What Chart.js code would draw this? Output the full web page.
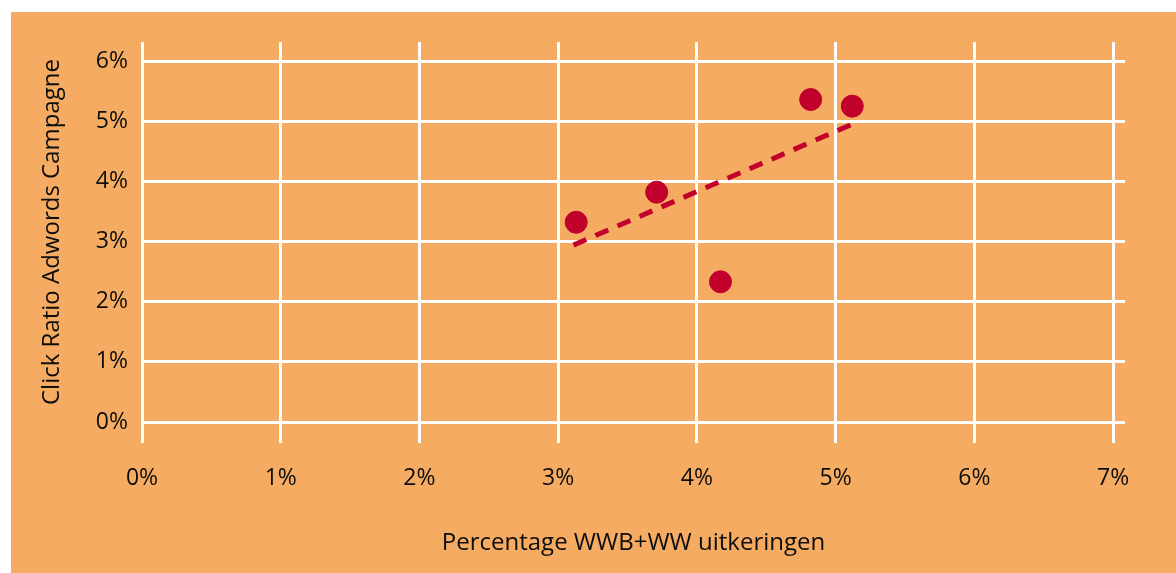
<!DOCTYPE html>
<html>
<head>
<meta charset="utf-8">
<script src="https://cdn.jsdelivr.net/npm/chart.js@4.4.1/dist/chart.umd.min.js"></script>
<style>
    html, body { margin: 0; padding: 0; background: #ffffff; }
    #wrap { width: 1176px; height: 573px; }
</style>
</head>
<body>
<div id="wrap"><canvas id="scatter-chart"></canvas></div>
<script>
// values (percent)
const wwPercent = [3.13, 3.71, 4.17, 4.82, 5.12];
const clickRatio = [3.32, 3.82, 2.33, 5.36, 5.25];
const trendX = [3.11, 5.12];
const trendY = [2.94, 4.95];
const xTicks = [0, 1, 2, 3, 4, 5, 6, 7];
const yTicks = [0, 1, 2, 3, 4, 5, 6];

const orange = "#F5AC62";
const red = "#C1002B";

let points = wwPercent.map((x, i) => ({x: x, y: clickRatio[i]}));
let trend = trendX.map((x, i) => ({x: x, y: trendY[i]}));

// orange panel behind the plot, white strip top and left
const panelBackground = {
    id: 'panelBackground',
    beforeDraw(chart) {
        let ctx = chart.ctx;
        ctx.save();
        ctx.fillStyle = "#ffffff";
        ctx.fillRect(0, 0, chart.width, chart.height);
        ctx.fillStyle = orange;
        ctx.fillRect(11, 12, chart.width - 11, chart.height - 12);
        ctx.restore();
    }
};

new Chart(document.getElementById("scatter-chart"), {
    type: 'scatter',
    data: {
        datasets: [
            {
                label: 'Click ratio',
                data: points,
                backgroundColor: red,
                borderColor: red,
                pointRadius: 11,
                pointHoverRadius: 11,
                order: 1
            },
            {
                type: 'line',
                label: 'Trend',
                data: trend,
                borderColor: red,
                borderWidth: 5,
                borderDash: [14, 10],
                pointRadius: 0,
                fill: false,
                order: 2
            }
        ]
    },
    options: {
        responsive: true,
        maintainAspectRatio: false,
        animation: false,
        layout: {
            padding: {left: 11, top: 42, right: 51, bottom: 0}
        },
        plugins: {
            legend: {display: false},
            tooltip: {enabled: false}
        },
        scales: {
            x: {
                type: 'linear',
                min: 0,
                max: 7.086,
                afterBuildTicks: scale => { scale.ticks = xTicks.map(v => ({value: v})); },
                afterFit: scale => { scale.height = 151; },
                border: {display: false},
                grid: {
                    color: "#ffffff",
                    lineWidth: 3,
                    drawTicks: true,
                    tickLength: 21,
                    tickColor: "#ffffff"
                },
                ticks: {
                    color: "#0d0d0d",
                    padding: 22,
                    maxRotation: 0,
                    font: {family: "'Open Sans'", size: 23},
                    callback: v => v + '%'
                },
                title: {
                    display: true,
                    text: 'Percentage WWB+WW uitkeringen',
                    color: "#0d0d0d",
                    padding: {top: 0, bottom: 15},
                    font: {family: "'Open Sans'", size: 24}
                }
            },
            y: {
                type: 'linear',
                min: 0,
                max: 6.316,
                afterBuildTicks: scale => { scale.ticks = yTicks.map(v => ({value: v})); },
                afterFit: scale => { scale.width = 131; },
                border: {display: false},
                grid: {
                    color: "#ffffff",
                    lineWidth: 3,
                    drawTicks: false
                },
                ticks: {
                    color: "#0d0d0d",
                    padding: 14,
                    font: {family: "'Open Sans'", size: 23},
                    callback: v => v + '%'
                },
                title: {
                    display: true,
                    text: 'Click Ratio Adwords Campagne',
                    color: "#0d0d0d",
                    padding: {top: 27, bottom: 0},
                    font: {family: "'Open Sans'", size: 24}
                }
            }
        }
    },
    plugins: [panelBackground]
});
</script>
</body>
</html>
